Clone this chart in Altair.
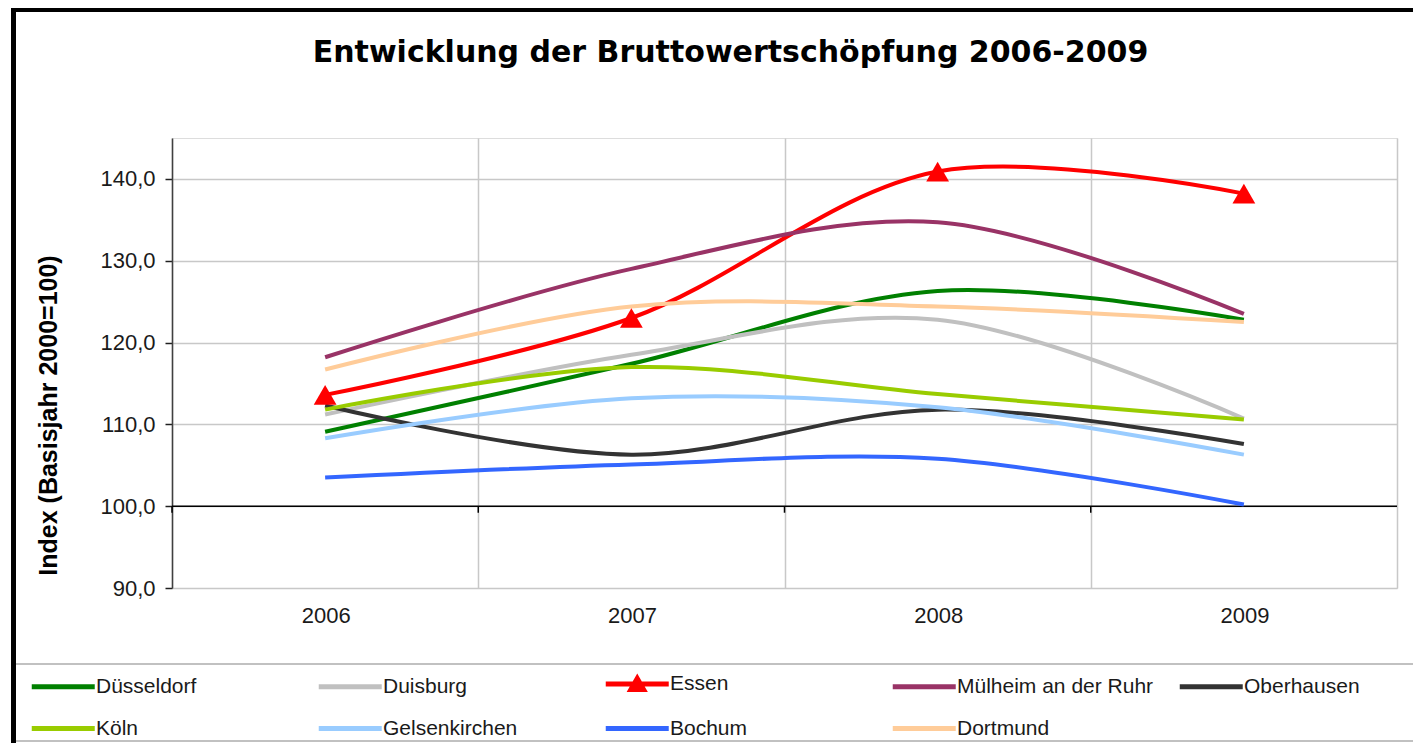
import altair as alt
import pandas as pd

years = ["2006", "2007", "2008", "2009"]
cities = ["Düsseldorf", "Duisburg", "Essen", "Mülheim an der Ruhr", "Oberhausen",
          "Köln", "Gelsenkirchen", "Bochum", "Dortmund"]
colors = ["#008000", "#c0c0c0", "#ff0000", "#993366", "#333333",
          "#99cc00", "#99ccff", "#3366ff", "#ffcc99"]

duesseldorf = [109.1, 117.4, 126.3, 122.8]
duisburg = [111.2, 118.5, 122.8, 110.7]
essen = [113.6, 123.0, 140.9, 138.2]
muelheim = [118.2, 129.0, 134.7, 123.5]
oberhausen = [112.3, 106.3, 111.8, 107.6]
koeln = [111.8, 117.0, 113.7, 110.6]
gelsenkirchen = [108.3, 113.2, 112.1, 106.3]
bochum = [103.5, 105.1, 105.8, 100.2]
dortmund = [116.7, 124.4, 124.4, 122.5]

y_ticks = [90, 100, 110, 120, 130, 140]

series = [duesseldorf, duisburg, essen, muelheim, oberhausen,
          koeln, gelsenkirchen, bochum, dortmund]

rows = []
for c, vals in zip(cities, series):
    for yr, v in zip(years, vals):
        rows.append({"Jahr": yr, "Stadt": c, "Index": v})
df = pd.DataFrame(rows)

# Vega fills legend columns top-to-bottom; reorder so rows read like the original
n_cols = 5
n_rows = 2
legend_order = []
for col in range(n_cols):
    for r in range(n_rows):
        i = r * n_cols + col
        if i < len(cities):
            legend_order.append(i)
dom = [cities[i] for i in legend_order]
rng = [colors[i] for i in legend_order]

LINE_PATH = "M-1,0H3"
ESSEN_PATH = "M-1,0H3M0.6,0.35L1,-0.35L1.4,0.35Z"
shapes = [ESSEN_PATH if c == "Essen" else LINE_PATH for c in dom]

FONT = "Liberation Sans"

legend = alt.Legend(
    title=None, orient="none", legendX=-143, legendY=527, columns=n_cols,
    gridAlign="all", columnPadding=15, rowPadding=10,
    symbolSize=992, symbolStrokeWidth=5, symbolOpacity=1,
    symbolFillColor="#ff0000",
    labelFont=FONT, labelFontSize=21, labelColor="#1a1a1a",
    labelOffset=30, padding=0, labelLimit=400,
)

color = alt.Color("Stadt:N", scale=alt.Scale(domain=dom, range=rng), legend=legend)
shape = alt.Shape("Stadt:N", scale=alt.Scale(domain=dom, range=shapes), legend=legend)

x_enc = alt.X(
    "Jahr:N", sort=years, title=None,
    scale=alt.Scale(paddingInner=0, paddingOuter=0),
    axis=alt.Axis(
        labelAngle=0, domain=False, ticks=False, tickSize=0, labelPadding=27,
        labelOffset=25,
        tickBand="extent", grid=True, gridColor="#c8c8c8", gridWidth=1.5,
        labelFont=FONT, labelFontSize=22, labelColor="#1a1a1a",
    ),
)
y_enc = alt.Y(
    "Index:Q",
    scale=alt.Scale(domain=[90, 145], nice=False, zero=False),
    axis=alt.Axis(
        values=y_ticks, title="Index (Basisjahr 2000=100)",
        labelExpr="replace(format(datum.value, '.1f'), '.', ',')",
        grid=True, gridColor="#c8c8c8", gridWidth=1.5,
        domainColor="#404040", domainWidth=1.5,
        tickColor="#202020", tickSize=7, tickWidth=1.5, labelPadding=10,
        labelFont=FONT, labelFontSize=22, labelColor="#1a1a1a",
        titleFont=FONT, titleFontSize=25, titleFontWeight="bold", titleColor="#000000",
        titleAngle=270, titleX=-124, titleY=277, titleAlign="center", titleBaseline="middle",
    ),
)

base = alt.Chart(df)

lines = base.mark_line(interpolate="catmull-rom", strokeWidth=4).encode(
    x=x_enc, y=y_enc, color=color
)

essen_pts = base.transform_filter(alt.datum.Stadt == "Essen").mark_point(
    shape="triangle-up", filled=True, size=520, opacity=1
).encode(x=x_enc, y=y_enc, color=color)

legend_proxy = base.transform_filter(alt.datum.Jahr == "2006").mark_point(
    opacity=0
).encode(x=x_enc, y=y_enc, color=color, shape=shape)

hundred = alt.Chart(pd.DataFrame({"v": [100]})).mark_rule(
    color="black", strokeWidth=1.5
).encode(y=alt.Y("v:Q"))

tick_df = pd.DataFrame({"Jahr": years})
ticks100 = alt.Chart(tick_df).mark_rule(color="black", strokeWidth=1.5).encode(
    x=alt.X("Jahr:N", sort=years, bandPosition=0),
    y=alt.datum(100), y2=alt.datum(99.2),
)

frame_left = alt.Chart(tick_df).mark_rule(color="black", strokeWidth=5).encode(
    x=alt.value(-158.5), y=alt.value(-130), y2=alt.value(605)
)
frame_top = alt.Chart(tick_df).mark_rule(color="black", strokeWidth=4).encode(
    x=alt.value(-161), x2=alt.value(1241), y=alt.value(-128)
)
legend_top = alt.Chart(tick_df).mark_rule(color="#c0c0c0", strokeWidth=1.5).encode(
    x=alt.value(-156), x2=alt.value(1241), y=alt.value(526)
)
legend_bottom = alt.Chart(tick_df).mark_rule(color="#c0c0c0", strokeWidth=1.5).encode(
    x=alt.value(-156), x2=alt.value(1241), y=alt.value(603)
)

chart = alt.layer(
    hundred, ticks100, lines, essen_pts, legend_proxy,
    frame_left, frame_top, legend_top, legend_bottom,
).properties(
    width=1225, height=450,
    title=alt.TitleParams(
        "Entwicklung der Bruttowertschöpfung 2006-2009",
        font="DejaVu Sans", fontSize=30, fontWeight="bold", color="#000000",
        anchor="middle", frame="group", dx=-54, offset=-86, baseline="alphabetic",
    ),
    autosize=alt.AutoSizeParams(type="none"),
    padding={"left": 164, "top": 130, "right": 16, "bottom": 155},
).configure_view(
    stroke="#a0a0a0", strokeWidth=1.5
).configure(background="white")

chart.save("out.html", embed_options={"renderer": "svg", "actions": False})
